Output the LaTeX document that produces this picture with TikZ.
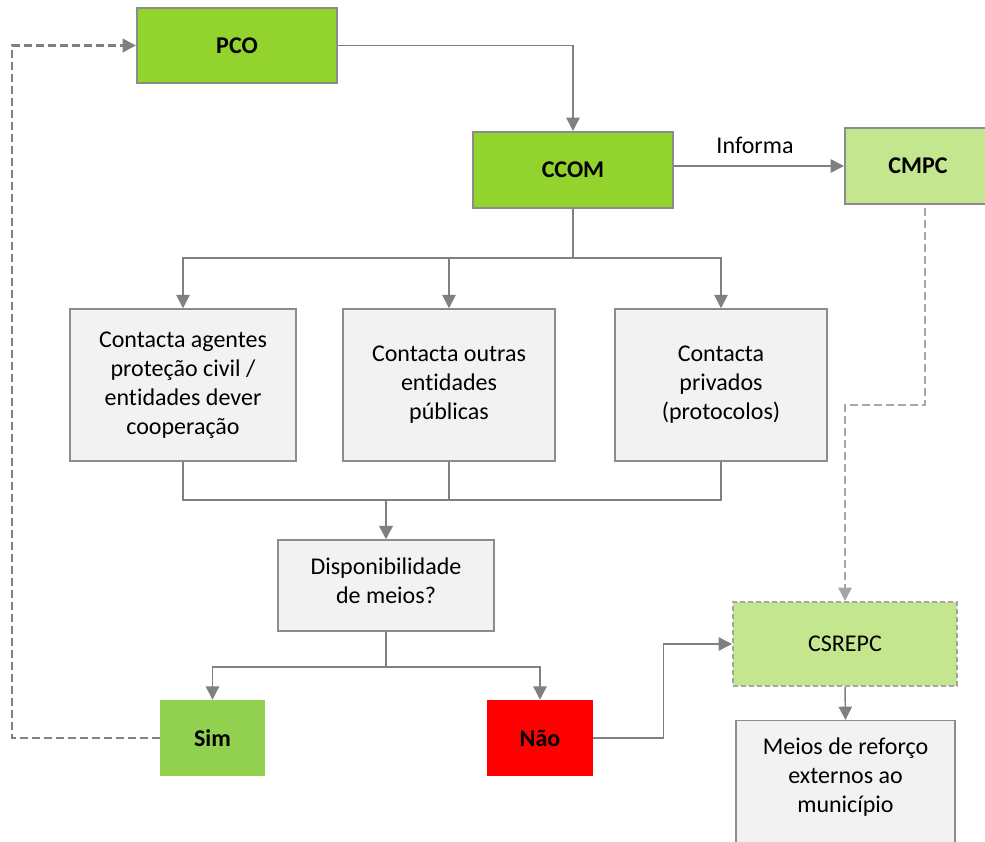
\documentclass[tikz,border=0pt]{standalone}
\usepackage{fontspec}
\setmainfont{Carlito}[Ligatures=NoCommon]
\usetikzlibrary{arrows.meta}
\definecolor{dgreen}{RGB}{146,211,45}
\definecolor{simgreen}{RGB}{146,208,80}
\definecolor{lgreen}{RGB}{195,230,142}
\definecolor{boxgray}{RGB}{242,242,242}
\definecolor{bordergray}{RGB}{140,140,140}
\definecolor{linegray}{RGB}{128,128,128}
\definecolor{dashgray}{RGB}{166,166,166}
\begin{document}
\begin{tikzpicture}[x=0.75pt,y=-0.75pt,
  font=\fontsize{18pt}{21.75pt}\selectfont,
  base/.style={rectangle, align=center, inner sep=2pt},
  greenbox/.style={base, fill=dgreen, draw=bordergray, line width=1.5pt, font=\fontsize{18pt}{21.75pt}\selectfont\bfseries},
  lightbox/.style={base, fill=lgreen, draw=bordergray, line width=1.5pt},
  graybox/.style={base, fill=boxgray, draw=bordergray, line width=1.1pt},
  flatbox/.style={base, font=\fontsize{18pt}{21.75pt}\selectfont\bfseries},
  conn/.style={draw=linegray, line width=1.1pt},
  arr/.style={conn, -{Triangle[length=10pt,width=10pt]}, color=linegray},
  dasharr/.style={draw=dashgray, line width=1.1pt, dash pattern=on 6pt off 3pt, -{Triangle[length=10pt,width=10pt]}},
]
\useasboundingbox (0,0) rectangle (985,842);

% nodes
\node[greenbox, minimum width=150pt, minimum height=56.25pt] (pco) at (237,45.5) {PCO};
\node[greenbox, minimum width=150pt, minimum height=57pt] (ccom) at (573,170) {CCOM};
\node[lightbox, minimum width=109.5pt, minimum height=57pt, font=\fontsize{18pt}{21.75pt}\selectfont\bfseries] (cmpc) at (918,166) {CMPC};
\node[graybox, minimum width=169.5pt, minimum height=114pt] (b1) at (183,385) {Contacta agentes\\proteção civil /\\entidades dever\\cooperação};
\node[graybox, minimum width=159pt, minimum height=114pt] (b2) at (449,385) {Contacta outras\\entidades\\públicas};
\node[graybox, minimum width=159pt, minimum height=114pt] (b3) at (721,385) {Contacta\\privados\\(protocolos)};
\node[graybox, minimum width=162pt, minimum height=68.25pt] (disp) at (386,585.5) {Disponibilidade\\de meios?\vphantom{\strut}\rule[-6pt]{0pt}{0pt}};
\node[flatbox, fill=simgreen, minimum width=78.75pt, minimum height=57pt] (sim) at (212.5,738) {Sim};
\node[flatbox, fill=red, minimum width=79.5pt, minimum height=57pt] (nao) at (540,738) {Não};
\node[base, fill=lgreen, draw=dashgray, line width=1.5pt, dash pattern=on 4pt off 2pt, minimum width=168pt, minimum height=63pt] (csrepc) at (845,644) {CSREPC};
\node[graybox, minimum width=164.25pt, minimum height=97.5pt, anchor=north] (meios) at (845.5,720) {};
\node[base] (meiostxt) at (845.5,777) {Meios de reforço\\externos ao\\município};
\node[base] (informa) at (755,145) {Informa};

% coordinates
\coordinate (bus) at (573,258);
\coordinate (merge) at (386,500);
\coordinate (split) at (386,667);
\coordinate (c1) at (925,405);
\coordinate (l1) at (12,738);

% connectors
\draw[arr] (pco.east) -| (ccom.north);
\draw[arr] (ccom.east |- cmpc.west) -- (cmpc.west);
\draw[conn] (ccom.south) -- (bus);
\draw[arr] (bus) -| (b1.north);
\draw[arr] (bus) -| (b2.north);
\draw[arr] (bus) -| (b3.north);
\draw[conn, line width=2pt] (b1.south) |- (merge) -| (b3.south);
\draw[conn] (b2.south) -- (b2.south |- merge);
\draw[arr, line width=2pt] (merge) -- (disp.north);
\draw[conn] (disp.south) -- (split);
\draw[arr] (split) -| (sim.north);
\draw[arr] (split) -| (nao.north);
\draw[arr] (nao.east) -- ++(70,0) |- (csrepc.west);
\draw[arr] (csrepc.south) -- (meios.north);
\draw[dasharr] ([yshift=-2pt]cmpc.south -| c1) -- (c1) -| (csrepc.north);
\draw[draw=linegray, line width=2pt, dash pattern=on 6pt off 3pt, -{Triangle[length=10pt,width=10pt]}] (sim.west) -- (sim.west -| l1) |- (pco.west);
\end{tikzpicture}
\end{document}
